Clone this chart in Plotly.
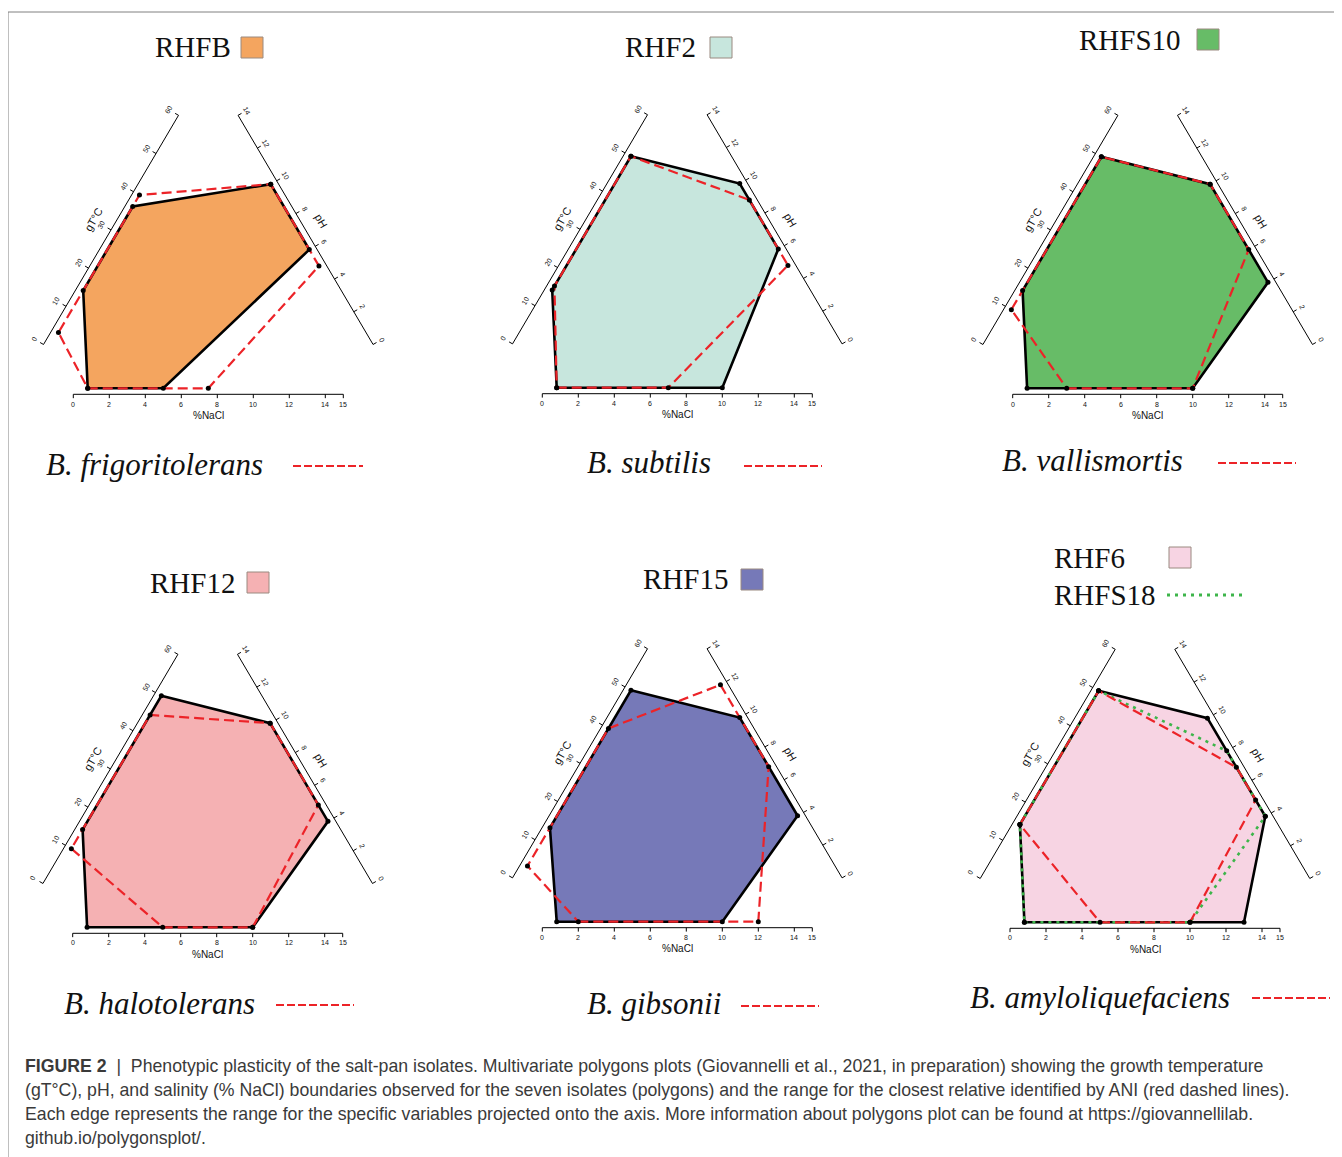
import math
import plotly.graph_objects as go

# ---------------- data ----------------
isolates = ["RHFB", "RHF2", "RHFS10", "RHF12", "RHF15", "RHF6"]
relatives = ["B. frigoritolerans", "B. subtilis", "B. vallismortis",
             "B. halotolerans", "B. gibsonii", "B. amyloliquefaciens"]
iso_colors = ["#F4A55F", "#C7E6DD", "#67BC67", "#F5B1B3", "#7679B8", "#F7D4E3"]

# isolate ranges [min, max]
iso_temp = [[15, 37], [15, 50], [15, 50], [15, 50], [14, 50], [15, 50]]
iso_ph = [[6, 10], [6, 10], [4, 10], [4, 10], [4, 10], [4, 10]]
iso_nacl = [[0.8, 5], [0.8, 10], [0.8, 10], [0.8, 10], [0.8, 10], [0.8, 13]]

# closest relative ranges [min, max] (red dashed)
rel_temp = [[4, 40], [16, 50], [10, 50], [10, 45], [4, 40], [15, 50]]
rel_ph = [[5, 10], [5, 9], [6, 10], [5, 10], [7, 12], [5, 7]]
rel_nacl = [[0.8, 7.5], [0.8, 7], [3, 10], [5, 10], [2, 12], [5, 10]]

# second isolate in last panel (green dotted)
extra_name = "RHFS18"
extra_temp = [15, 50]
extra_ph = [4, 8]
extra_nacl = [0.8, 10]

temp_ticks = [0, 10, 20, 30, 40, 50, 60]
ph_ticks = [0, 2, 4, 6, 8, 10, 12, 14]
nacl_ticks = [0, 2, 4, 6, 8, 10, 12, 14, 15]
TMAX, PHMAX, NMAX = 60, 14, 15

caption_lines = [
    "<b>FIGURE 2</b>  |  Phenotypic plasticity of the salt-pan isolates. Multivariate polygons plots (Giovannelli et al., 2021, in preparation) showing the growth temperature",
    "(gT°C), pH, and salinity (% NaCl) boundaries observed for the seven isolates (polygons) and the range for the closest relative identified by ANI (red dashed lines).",
    "Each edge represents the range for the specific variables projected onto the axis. More information about polygons plot can be found at https://giovannellilab.",
    "github.io/polygonsplot/.",
]

# ---------------- layout / geometry ----------------
PAGE_MARGIN = 8                 # default body margin of the page
W, H = 1342 - PAGE_MARGIN, 1157 - PAGE_MARGIN
PXX, PXY = 18.0, 17.64          # pixels per plot unit (x, y)
L = 15.0                        # axis length in plot units
M = 2.65                        # corner margin
C60, S60 = 0.5, math.sqrt(3) / 2
BL = (-M, 0.0)
BR = (L + M, 0.0)
N_T = (-S60, C60)               # outward normal of temperature side
N_P = (S60, C60)                # outward normal of pH side

# page-pixel positions (reference image coordinates)
origins = [(73.3, 388.3), (542.3, 387.7), (1012.7, 388.3),
           (72.7, 927.3), (542.3, 921.7), (1010.0, 922.3)]
col_bounds = [(8, 470), (470, 940), (940, 1342)]
row_bounds = [(55, 445), (595, 985)]


def fx(p):   # page px -> figure px
    return p - PAGE_MARGIN


def X(p):
    return fx(p) / W


def Y(p):
    return 1 - fx(p) / H


def p_nacl(v):
    return (v / NMAX * L, 0.0)


def p_temp(v):
    s = M + v / TMAX * L
    return (BL[0] + s * C60, BL[1] + s * S60)


def p_ph(v):
    s = M + v / PHMAX * L
    return (BR[0] - s * C60, BR[1] + s * S60)


def shift(p, n, d):
    return (p[0] + n[0] * d, p[1] + n[1] * d)


def polygon(nacl, ph, temp):
    return [p_nacl(nacl[0]), p_nacl(nacl[1]), p_ph(ph[0]), p_ph(ph[1]),
            p_temp(temp[1]), p_temp(temp[0])]


fig = go.Figure()
annotations = []
shapes = []
lay = {}

RED = "#EC2328"
GREEN = "#3DB54A"
TICKFONT = dict(family="Liberation Sans, Arial, sans-serif", size=7, color="#111")
LABFONT = dict(family="Liberation Sans, Arial, sans-serif", size=11, color="#111")

for i in range(6):
    ox, oy = fx(origins[i][0]), fx(origins[i][1])
    l, r = [fx(v) for v in col_bounds[i % 3]]
    t, b = [fx(v) for v in row_bounds[i // 3]]
    xn = "xaxis" if i == 0 else f"xaxis{i+1}"
    yn = "yaxis" if i == 0 else f"yaxis{i+1}"
    xr = "x" if i == 0 else f"x{i+1}"
    yr = "y" if i == 0 else f"y{i+1}"
    lay[xn] = dict(domain=[l / W, r / W], range=[(l - ox) / PXX, (r - ox) / PXX],
                   visible=False, fixedrange=True)
    lay[yn] = dict(domain=[(H - b) / H, (H - t) / H], range=[(oy - b) / PXY, (oy - t) / PXY],
                   visible=False, fixedrange=True)

    # isolate polygon
    poly = polygon(iso_nacl[i], iso_ph[i], iso_temp[i])
    fig.add_trace(go.Scatter(x=[p[0] for p in poly] + [poly[0][0]],
                             y=[p[1] for p in poly] + [poly[0][1]],
                             xaxis=xr, yaxis=yr, mode="lines", fill="toself",
                             fillcolor=iso_colors[i], line=dict(color="black", width=2.6),
                             hoverinfo="skip", showlegend=False))
    dots = list(poly)

    if i == 5:
        ep = polygon(extra_nacl, extra_ph, extra_temp)
        fig.add_trace(go.Scatter(x=[p[0] for p in ep] + [ep[0][0]], y=[p[1] for p in ep] + [ep[0][1]],
                                 xaxis=xr, yaxis=yr, mode="lines",
                                 line=dict(color=GREEN, width=2.6, dash="3px,5px"),
                                 hoverinfo="skip", showlegend=False))
        dots += ep

    rp = polygon(rel_nacl[i], rel_ph[i], rel_temp[i])
    fig.add_trace(go.Scatter(x=[p[0] for p in rp] + [rp[0][0]], y=[p[1] for p in rp] + [rp[0][1]],
                             xaxis=xr, yaxis=yr, mode="lines",
                             line=dict(color=RED, width=2.2, dash="10px,5px"),
                             hoverinfo="skip", showlegend=False))
    dots += rp
    fig.add_trace(go.Scatter(x=[p[0] for p in dots], y=[p[1] for p in dots], xaxis=xr, yaxis=yr,
                             mode="markers", marker=dict(color="black", size=5),
                             hoverinfo="skip", showlegend=False))

    # ---- axes ----
    ax, ay = [], []
    OFFN, OFFS, TL = 0.34, 0.38, 0.22
    # NaCl axis
    a0 = shift(p_nacl(0), (0, -1), OFFN)
    a1 = shift(p_nacl(NMAX), (0, -1), OFFN)
    ax += [a0[0], a1[0], None]
    ay += [a0[1], a1[1], None]
    for v in nacl_ticks:
        q = shift(p_nacl(v), (0, -1), OFFN)
        q2 = shift(q, (0, -1), TL)
        ax += [q[0], q2[0], None]
        ay += [q[1], q2[1], None]
        lp = shift(q, (0, -1), 0.55)
        annotations.append(dict(x=lp[0], y=lp[1], xref=xr, yref=yr, text=str(v), showarrow=False,
                                font=TICKFONT, xanchor="center", yanchor="middle"))
    lp = shift(p_nacl(NMAX / 2), (0, -1), OFFN + 1.2)
    annotations.append(dict(x=lp[0], y=lp[1], xref=xr, yref=yr, text="%NaCl", showarrow=False,
                            font=dict(LABFONT, size=10), xanchor="center", yanchor="middle"))
    # temperature axis
    a0 = shift(p_temp(0), N_T, OFFS)
    a1 = shift(p_temp(TMAX), N_T, OFFS)
    ax += [a0[0], a1[0], None]
    ay += [a0[1], a1[1], None]
    for v in temp_ticks:
        q = shift(p_temp(v), N_T, OFFS)
        q2 = shift(q, N_T, TL)
        ax += [q[0], q2[0], None]
        ay += [q[1], q2[1], None]
        lp = shift(q, N_T, 0.62)
        annotations.append(dict(x=lp[0], y=lp[1], xref=xr, yref=yr, text=str(v), showarrow=False,
                                font=TICKFONT, textangle=-60, xanchor="center", yanchor="middle"))
    lp = shift(p_temp(TMAX / 2), N_T, OFFS + 1.15)
    annotations.append(dict(x=lp[0], y=lp[1], xref=xr, yref=yr, text="gT°C", showarrow=False,
                            font=LABFONT, textangle=-60, xanchor="center", yanchor="middle"))
    # pH axis
    a0 = shift(p_ph(0), N_P, OFFS)
    a1 = shift(p_ph(PHMAX), N_P, OFFS)
    ax += [a0[0], a1[0], None]
    ay += [a0[1], a1[1], None]
    for v in ph_ticks:
        q = shift(p_ph(v), N_P, OFFS)
        q2 = shift(q, N_P, TL)
        ax += [q[0], q2[0], None]
        ay += [q[1], q2[1], None]
        lp = shift(q, N_P, 0.55)
        annotations.append(dict(x=lp[0], y=lp[1], xref=xr, yref=yr, text=str(v), showarrow=False,
                                font=TICKFONT, textangle=60, xanchor="center", yanchor="middle"))
    lp = shift(p_ph(PHMAX / 2), N_P, OFFS + 1.0)
    annotations.append(dict(x=lp[0], y=lp[1], xref=xr, yref=yr, text="pH", showarrow=False,
                            font=LABFONT, textangle=60, xanchor="center", yanchor="middle"))
    fig.add_trace(go.Scatter(x=ax, y=ay, xaxis=xr, yaxis=yr, mode="lines",
                             line=dict(color="black", width=1), hoverinfo="skip", showlegend=False))

# ---------------- titles and legends (paper coordinates) ----------------
SERIF = "Liberation Serif, Times New Roman, serif"

title_pos = [(153, 47), (623, 47), (1077, 40), (148, 583), (641, 579), (1052, 558)]
square_pos = [(241, 37), (710, 37), (1197, 29), (247, 572), (741, 569), (1169, 547)]
for i in range(6):
    tx, ty = title_pos[i]
    annotations.append(dict(x=X(tx), y=Y(ty), xref="paper", yref="paper", text=isolates[i],
                            showarrow=False, xanchor="left", yanchor="middle",
                            font=dict(family=SERIF, size=29, color="#111")))
    sx, sy = square_pos[i]
    shapes.append(dict(type="rect", xref="paper", yref="paper", x0=X(sx), x1=X(sx + 22),
                       y0=Y(sy), y1=Y(sy + 21), fillcolor=iso_colors[i],
                       line=dict(color="#9a8a80", width=1)))

annotations.append(dict(x=X(1052), y=Y(595), xref="paper", yref="paper", text=extra_name,
                        showarrow=False, xanchor="left", yanchor="middle",
                        font=dict(family=SERIF, size=29, color="#111")))
shapes.append(dict(type="line", xref="paper", yref="paper", x0=X(1167), x1=X(1246),
                   y0=Y(595), y1=Y(595), line=dict(color=GREEN, width=3, dash="3px,5px")))

species_pos = [(44, 465), (585, 462), (1000, 460), (62, 1003), (585, 1003), (968, 997)]
dash_pos = [(293, 363, 466), (744, 822, 466), (1218, 1296, 463),
            (276, 354, 1005), (741, 819, 1006), (1252, 1330, 998)]
for i in range(6):
    sx, sy = species_pos[i]
    annotations.append(dict(x=X(sx), y=Y(sy), xref="paper", yref="paper", text=f"<i>{relatives[i]}</i>",
                            showarrow=False, xanchor="left", yanchor="middle",
                            font=dict(family=SERIF, size=31, color="#111")))
    d0, d1, dy = dash_pos[i]
    shapes.append(dict(type="line", xref="paper", yref="paper", x0=X(d0), x1=X(d1),
                       y0=Y(dy), y1=Y(dy), line=dict(color=RED, width=2, dash="8px,3px")))

# frame
shapes.append(dict(type="line", xref="paper", yref="paper", x0=X(8), x1=1, y0=Y(12), y1=Y(12),
                   line=dict(color="#808080", width=1)))
shapes.append(dict(type="line", xref="paper", yref="paper", x0=X(8), x1=X(8), y0=Y(12), y1=0,
                   line=dict(color="#808080", width=1)))

# caption
cap_y = [1066, 1090, 1114, 1138]
for txt, cy in zip(caption_lines, cap_y):
    annotations.append(dict(x=X(23), y=Y(cy), xref="paper", yref="paper", text=txt, showarrow=False,
                            xanchor="left", yanchor="middle",
                            font=dict(family="Liberation Sans, Arial, sans-serif", size=17.7, color="#3a3a3a")))

fig.update_layout(width=W, height=H, margin=dict(l=0, r=0, t=0, b=0),
                  paper_bgcolor="white", plot_bgcolor="rgba(0,0,0,0)",
                  annotations=annotations, shapes=shapes, showlegend=False, **lay)
fig.write_html("out.html")
